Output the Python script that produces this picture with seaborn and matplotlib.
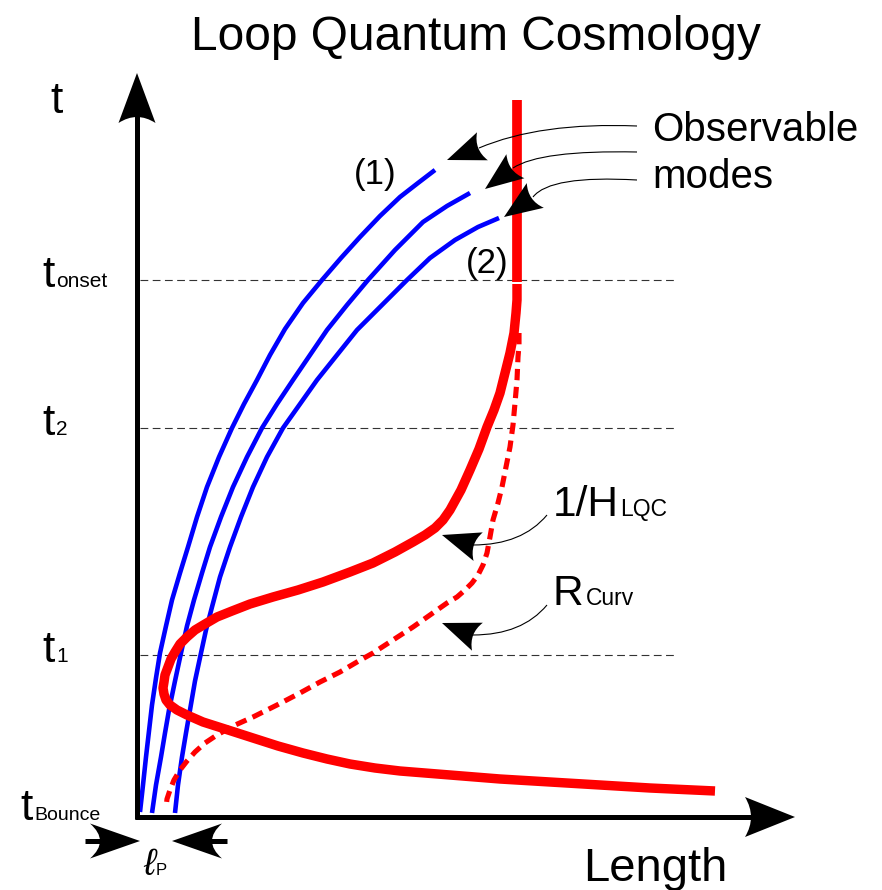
import numpy as np
import matplotlib
matplotlib.use("Agg")
import matplotlib.pyplot as plt
import seaborn as sns
from matplotlib.path import Path
from matplotlib.patches import PathPatch

# Style
sns.set_style("white")
plt.rcParams['font.family'] = ['Liberation Sans', 'DejaVu Sans']
plt.rcParams['text.color'] = 'black'

# Curves, in picture pixels (x = length, y = time, downwards)
hubble_x = [517, 517, 516, 514, 510, 505, 500, 494, 487, 479, 470, 461, 450, 443,
            435, 425, 413, 395, 373, 350, 323, 298, 273, 250, 232, 217, 205, 195,
            187, 180, 175, 171, 168, 165, 164, 163, 164, 166, 170, 177, 187, 203,
            225, 253, 278, 303, 327, 350, 375, 400, 450, 500, 550, 600, 650, 715]
hubble_y = [284, 300, 313, 333, 353, 373, 393, 410, 427, 449, 470, 490, 510, 520,
            528, 535, 542, 552, 563, 572, 582, 590, 597, 604, 611, 617, 624, 630,
            637, 644, 652, 659, 667, 675, 682, 688, 694, 700, 705, 710, 715, 722,
            729, 738, 746, 753, 759, 764, 768, 771, 775, 779, 782, 785, 788, 791]
top_x = [517, 517]
top_y = [100, 282]
curv_x = [519, 519, 518, 517, 515, 513, 510, 506, 502, 498, 493, 490, 487, 483,
          478, 472, 465, 457, 447, 430, 413, 393, 373, 357, 340, 320, 300, 277,
          253, 233, 217, 205, 195, 187, 180, 174, 170, 167, 166]
curv_y = [333, 345, 357, 380, 403, 425, 447, 467, 487, 503, 520, 537, 553, 565,
          575, 583, 590, 597, 603, 615, 627, 640, 653, 662, 672, 682, 693, 705,
          717, 726, 735, 743, 752, 761, 770, 780, 790, 799, 808]
mode1_x = [140, 143, 146, 152, 156, 160, 166, 172, 180, 188, 197, 207, 219, 232,
           244, 257, 270, 285, 303, 322, 341, 360, 380, 400, 418, 435]
mode1_y = [812, 785, 757, 705, 678, 653, 626, 600, 573, 547, 517, 487, 457, 428,
           404, 380, 355, 329, 303, 280, 258, 237, 216, 197, 183, 170]
mode2_x = [152, 156, 161, 165, 169, 175, 181, 187, 194, 202, 210, 221, 233, 247,
           262, 277, 293, 310, 327, 347, 368, 395, 423, 447, 470]
mode2_y = [813, 785, 757, 733, 710, 681, 653, 626, 600, 573, 547, 517, 487, 457,
           428, 404, 380, 355, 330, 305, 280, 250, 222, 206, 193]
mode3_x = [175, 178, 182, 186, 190, 195, 201, 206, 212, 220, 230, 241, 253, 267,
           283, 300, 317, 337, 357, 382, 407, 430, 455, 478, 499]
mode3_y = [813, 785, 757, 733, 710, 681, 653, 630, 607, 577, 547, 517, 487, 457,
           428, 404, 380, 355, 330, 305, 280, 258, 240, 227, 218]

# Time marks
time_levels = [280, 428, 655]
time_subs = ["onset", "2", "1"]

fig = plt.figure(figsize=(8.82, 8.90), dpi=100)
ax = fig.add_axes([0, 0, 1, 1])
ax.set_xlim(0, 882)
ax.set_ylim(890, 0)
ax.axis('off')


def head(tip, toward, L, W, notch=0.88):
    tip = np.array(tip, float)
    u = tip - np.array(toward, float)
    u /= np.hypot(*u)
    n = np.array([-u[1], u[0]])
    c1 = tip - L * u + W / 2 * n
    c2 = tip - L * u - W / 2 * n
    ctrl = tip - (2 * notch - 1) * L * u
    p = Path([tip, c1, ctrl, c2, tip],
             [Path.MOVETO, Path.LINETO, Path.CURVE3, Path.CURVE3, Path.CLOSEPOLY])
    ax.add_patch(PathPatch(p, fc='black', ec='none', zorder=6))


def bend(p0, ctrl, p1, lw=0.8):
    p = Path([p0, ctrl, p1], [Path.MOVETO, Path.CURVE3, Path.CURVE3])
    ax.add_patch(PathPatch(p, fc='none', ec='black', lw=lw, zorder=5))


# dashed time levels
for yl in time_levels:
    ax.plot([140, 675], [yl, yl], color='#333333', lw=0.8, ls=(0, (7, 4)), zorder=1)

# axes
ax.plot([137, 137], [819, 110], color='black', lw=3.6, solid_capstyle='butt', zorder=4)
ax.plot([135, 760], [817, 817], color='black', lw=3.6, solid_capstyle='butt', zorder=4)
head((137, 73), (137, 117), 50, 37)
head((795, 817), (751, 817), 50, 40)

# curves
for xs, ys in [(mode1_x, mode1_y), (mode2_x, mode2_y), (mode3_x, mode3_y)]:
    sns.lineplot(x=xs, y=ys, sort=False, estimator=None, color='#0000ff',
                 lw=3.3, ax=ax, zorder=2)
sns.lineplot(x=curv_x, y=curv_y, sort=False, estimator=None, color='#ff0000',
             lw=3.7, ax=ax, zorder=3)
ax.lines[-1].set_dashes((2.2, 1.3))
sns.lineplot(x=hubble_x, y=hubble_y, sort=False, estimator=None, color='#ff0000',
             lw=6.8, ax=ax, zorder=3)
sns.lineplot(x=top_x, y=top_y, sort=False, estimator=None, color='#ff0000',
             lw=7.0, ax=ax, zorder=3)
for ln in ax.lines:
    ln.set_solid_capstyle('butt')
    ln.set_solid_joinstyle('round')

# annotation arrows
bend((637, 126), (540, 122), (479, 148))
head((447, 160), (478, 148), 38, 30)
bend((637, 152), (540, 150), (513, 168))
head((485, 189), (513, 168), 38, 30)
bend((637, 180), (550, 175), (533, 197))
head((504, 217), (533, 197), 38, 30)
bend((547, 515), (522, 545), (473, 545))
head((442, 535), (473, 545), 38, 30)
bend((547, 605), (522, 635), (473, 635))
head((442, 623), (473, 635), 38, 30)

# planck length arrows
ax.plot([85, 120], [841, 841], color='black', lw=3.6, solid_capstyle='butt')
ax.plot([192, 227], [841, 841], color='black', lw=3.6, solid_capstyle='butt')
head((140, 841), (100, 841), 50, 35, notch=0.8)
head((172, 841), (212, 841), 50, 35, notch=0.8)

# texts
ax.text(476, 50, "Loop Quantum Cosmology", fontsize=34.5, ha='center', va='baseline')
ax.text(50, 113, "t", fontsize=32, va='baseline')
for yl, sub in zip(time_levels, time_subs):
    ax.text(42, yl + 7, "t", fontsize=32, va='baseline')
    ax.text(56, yl + 7, sub, fontsize=15, va='baseline')
ax.text(20, 820, "t", fontsize=32, va='baseline')
ax.text(34, 820, "Bounce", fontsize=14, va='baseline')
ax.text(143, 875, "ℓ", fontsize=27, fontstyle='italic', va='baseline')
ax.text(156, 875, "P", fontsize=12, va='baseline')
ax.text(354, 184, "(1)", fontsize=25, va='baseline')
ax.text(466, 273, "(2)", fontsize=25, va='baseline')
ax.text(652, 141, "Observable", fontsize=29, va='baseline')
ax.text(652, 188, "modes", fontsize=29, va='baseline')
ax.text(553, 516, "1/H", fontsize=30.5, va='baseline')
ax.text(620, 516, "LQC", fontsize=16.5, va='baseline')
ax.text(553, 605, "R", fontsize=30.5, va='baseline')
ax.text(586, 605, "Curv", fontsize=16.5, va='baseline')
ax.text(583, 881, "Length", fontsize=34, va='baseline')

fig.savefig("out.png", dpi=100)
